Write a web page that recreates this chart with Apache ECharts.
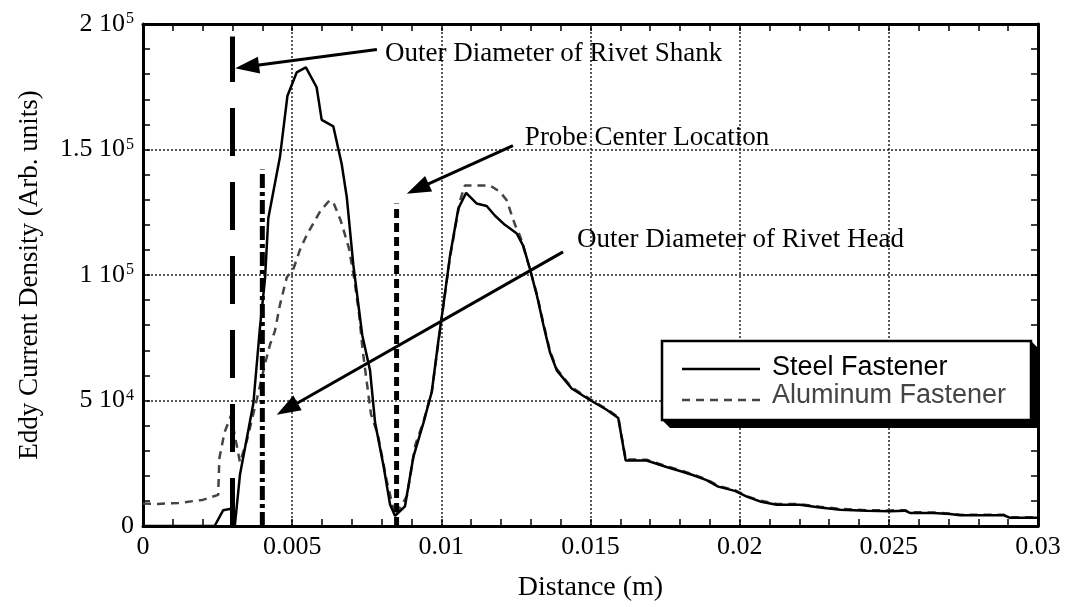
<!DOCTYPE html>
<html><head><meta charset="utf-8">
<script src="https://cdn.jsdelivr.net/npm/echarts@6/dist/echarts.min.js"></script>
<style>html,body{margin:0;padding:0;background:#fff}#c{width:1065px;height:607px}</style>
</head><body><div id="c"></div>
<script>
// ---- data ----
const steelX = [0,0.0024,0.00269,0.00294,0.00308,0.00325,0.0037,0.00392,0.00409,0.0042,0.00459,0.00484,0.00515,0.00546,0.00582,0.00599,0.00638,0.00666,0.00683,0.00705,0.00735,0.00761,0.00778,0.00806,0.00828,0.00845,0.00878,0.00906,0.0094,0.00968,0.0099,0.01007,0.01029,0.01057,0.01083,0.01118,0.01152,0.0118,0.01213,0.01253,0.01275,0.01297,0.0132,0.01342,0.01364,0.01387,0.01437,0.01498,0.01554,0.01593,0.01618,0.01688,0.01755,0.01811,0.01845,0.01889,0.01928,0.01984,0.02024,0.02068,0.02124,0.02202,0.02269,0.02337,0.02426,0.02504,0.02554,0.02571,0.02649,0.02705,0.02739,0.02884,0.02906,0.03];
const steelY = [0,0,6300,6900,300,20400,48900,79000,98600,122600,147000,171300,180700,182700,174800,161800,159200,144200,131100,104000,76000,62000,41100,24100,8600,4000,7800,27400,41100,53500,73700,88100,107600,126500,132700,128500,127500,123600,120000,116500,111500,102400,92000,80200,69200,62000,54800,50200,46300,43000,26100,26100,23500,21500,20200,18300,15700,14000,11700,9800,8500,8500,7400,6500,6100,5900,6100,5200,5200,4800,4300,4300,3300,3300];
const aluX = [0,0.0005,0.0012,0.002,0.00252,0.00256,0.00273,0.00295,0.00325,0.00348,0.00381,0.00409,0.00426,0.00442,0.00459,0.00482,0.00504,0.00526,0.0055,0.00595,0.00625,0.00638,0.00663,0.0069,0.00708,0.00725,0.00736,0.00764,0.00787,0.00817,0.00845,0.00885,0.00913,0.0094,0.00968,0.0099,0.01007,0.01029,0.01063,0.01079,0.01163,0.01197,0.01219,0.01247,0.01264,0.01297,0.0132,0.01342,0.01364,0.01387,0.01437,0.01498,0.01554,0.01593,0.01618,0.01688,0.01755,0.01811,0.01845,0.01889,0.01928,0.01984,0.02024,0.02068,0.02124,0.02202,0.02269,0.02337,0.02426,0.02504,0.02554,0.02571,0.02649,0.02705,0.02739,0.02884,0.02906,0.03];
const aluY = [9000,8800,9200,10400,12400,27000,37200,44000,25400,34000,50200,64600,72400,77600,88100,99100,102400,110000,116200,125600,129700,129000,121600,110800,98600,83800,70300,44600,36500,18000,4000,12000,32400,41500,53500,73000,88000,107000,129800,135700,135700,133100,129800,120000,115500,102400,92500,80800,69800,62500,55200,50600,46600,43400,26500,26400,23800,21800,20500,18600,16000,14300,11900,10100,8800,8700,7700,6800,6300,6200,6300,5500,5400,5000,4500,4500,3500,3500];
const seriesNames = ['Steel Fastener', 'Aluminum Fastener'];
const xTickValues = [0,0.005,0.01,0.015,0.02,0.025,0.03];
const xTickLabels = ['0','0.005','0.01','0.015','0.02','0.025','0.03'];
const yTickValues = [0,50000,100000,150000,200000];
const yTickLabels = ['0','5 10{s|4}','1 10{s|5}','1.5 10{s|5}','2 10{s|5}'];
// vertical marker lines: x position and top value
const markerX = [0.003, 0.004, 0.0085];
const markerTop = [195000, 142000, 128500];
// annotations (data coordinates)
const annotTexts = ['Outer Diameter of Rivet Shank', 'Probe Center Location', 'Outer Diameter of Rivet Head'];
const annotTextAt = [[0.00811, 188000], [0.0128, 154500], [0.01455, 114000]];
const arrowFrom = [[0.00784, 189800], [0.0124, 151500], [0.01408, 109200]];
const arrowTo = [[0.00309, 182400], [0.00884, 132400], [0.00448, 44300]];

// ---- chart ----
const serif = 'Liberation Serif, Times New Roman, serif';
const sans = 'Liberation Sans, Arial, Helvetica, sans-serif';
const pairs = (xs, ys) => xs.map((x, i) => [x, ys[i]]);
const seriesLine = [
  {color: '#000', width: 2.5, type: 'solid'},
  {color: '#444', width: 2.5, type: [8, 6]}
];
const markerStyles = [
  {width: 5, type: [48, 26]},
  {width: 5, type: [14, 4, 4, 4]},
  {width: 5, type: [9, 5]}
];

const chart = echarts.init(document.getElementById('c'), null, {renderer: 'canvas'});
const tickCommon = {inside: true, length: 7, lineStyle: {color: '#000', width: 1.5}};
const minorCommon = {show: true, splitNumber: 5, length: 7, lineStyle: {color: '#000', width: 1.5}};
const gridLine = {show: true, lineStyle: {color: '#222', width: 1.5, type: [2, 2]}};

const series = [
  {name: seriesNames[0], type: 'line', data: pairs(steelX, steelY), symbol: 'none', z: 4,
   lineStyle: seriesLine[0]},
  {name: seriesNames[1], type: 'line', data: pairs(aluX, aluY), symbol: 'none', z: 3,
   lineStyle: seriesLine[1]}
];
markerX.forEach((mx, i) => {
  series.push({name: 'marker' + i, type: 'line', data: [[mx, 0], [mx, markerTop[i]]], symbol: 'none', z: 5,
    silent: true, lineStyle: Object.assign({color: '#000', cap: 'butt'}, markerStyles[i])});
});

chart.setOption({
  animation: false,
  backgroundColor: '#fff',
  grid: {left: 143, right: 27, top: 24, bottom: 72},
  xAxis: [
    {type: 'value', min: 0, max: 0.03, interval: 0.005, position: 'bottom',
     name: 'Distance (m)', nameLocation: 'middle', nameGap: 48,
     nameTextStyle: {fontFamily: serif, fontSize: 28, color: '#000'},
     axisLine: {show: true, onZero: false, lineStyle: {color: '#000', width: 3}},
     axisTick: tickCommon, minorTick: minorCommon, splitLine: gridLine,
     axisLabel: {fontFamily: serif, fontSize: 26, color: '#000', margin: 8,
       formatter: v => { const i = xTickValues.findIndex(t => Math.abs(t - v) < 1e-9); return i >= 0 ? xTickLabels[i] : ''; }}},
    {type: 'value', min: 0, max: 0.03, interval: 0.005, position: 'top',
     axisLine: {show: true, onZero: false, lineStyle: {color: '#000', width: 3}},
     axisTick: tickCommon, minorTick: minorCommon, splitLine: {show: false}, axisLabel: {show: false}}
  ],
  yAxis: [
    {type: 'value', min: 0, max: 200000, interval: 50000, position: 'left',
     name: 'Eddy Current Density (Arb. units)', nameLocation: 'middle', nameGap: 100, nameRotate: 90,
     nameTextStyle: {fontFamily: serif, fontSize: 27, color: '#000'},
     axisLine: {show: true, onZero: false, lineStyle: {color: '#000', width: 3}},
     axisTick: tickCommon, minorTick: minorCommon, splitLine: gridLine,
     axisLabel: {fontFamily: serif, fontSize: 26, color: '#000', margin: 9,
       formatter: v => { const i = yTickValues.indexOf(v); return i >= 0 ? yTickLabels[i] : ''; },
       rich: {s: {fontFamily: serif, fontSize: 16, color: '#000', verticalAlign: 'top', padding: [0, 0, 10, 1]}}}},
    {type: 'value', min: 0, max: 200000, interval: 50000, position: 'right',
     axisLine: {show: true, onZero: false, lineStyle: {color: '#000', width: 3}},
     axisTick: tickCommon, minorTick: minorCommon, splitLine: {show: false}, axisLabel: {show: false}}
  ],
  series: series
});

// annotations: text + arrows, positioned from data coordinates
const toPx = p => chart.convertToPixel({xAxisIndex: 0, yAxisIndex: 0}, p);
const graphics = [];
annotTexts.forEach((t, i) => {
  const p = toPx(annotTextAt[i]);
  graphics.push({type: 'text', x: p[0], y: p[1], z: 10,
    style: {text: t, fontFamily: serif, fontSize: 27, fill: '#000', align: 'left', verticalAlign: 'middle'}});
  const a = toPx(arrowFrom[i]), b = toPx(arrowTo[i]);
  const dx = b[0] - a[0], dy = b[1] - a[1], len = Math.hypot(dx, dy);
  const ux = dx / len, uy = dy / len, L = 24, W = 8.5;
  const bx = b[0] - ux * L, by = b[1] - uy * L;
  graphics.push({type: 'line', z: 10, shape: {x1: a[0], y1: a[1], x2: bx + ux * 2, y2: by + uy * 2},
    style: {stroke: '#000', lineWidth: 3}});
  graphics.push({type: 'polygon', z: 10, shape: {points: [[b[0], b[1]], [bx - uy * W, by + ux * W], [bx + uy * W, by - ux * W]]},
    style: {fill: '#000'}});
});

// legend box with offset black shadow
const lg = {x: 662, y: 341, w: 369, h: 79, d: 8};
graphics.push({type: 'polygon', z: 20, shape: {points: [
  [lg.x + lg.w, lg.y], [lg.x + lg.w + lg.d, lg.y + lg.d], [lg.x + lg.w + lg.d, lg.y + lg.h + lg.d],
  [lg.x + lg.d, lg.y + lg.h + lg.d], [lg.x, lg.y + lg.h], [lg.x + lg.w, lg.y + lg.h]]}, style: {fill: '#000'}});
graphics.push({type: 'rect', z: 21, shape: {x: lg.x, y: lg.y, width: lg.w, height: lg.h},
  style: {fill: '#fff', stroke: '#000', lineWidth: 2.5}});
const rowY = [368, 396];
const textColors = ['#000', '#444'];
seriesNames.forEach((n, i) => {
  const ly = i === 0 ? rowY[i] + 1 : rowY[i] + 4;
  graphics.push({type: 'line', z: 22, shape: {x1: lg.x + 20, y1: ly, x2: lg.x + 98, y2: ly},
    style: {stroke: seriesLine[i].color, lineWidth: 2.5, lineDash: i === 0 ? null : [8, 6]}});
  graphics.push({type: 'text', z: 22, x: lg.x + 110, y: rowY[i],
    style: {text: n, fontFamily: sans, fontSize: 27, fill: textColors[i], align: 'left', verticalAlign: 'middle'}});
});
chart.setOption({graphic: graphics});
</script>
</body></html>
